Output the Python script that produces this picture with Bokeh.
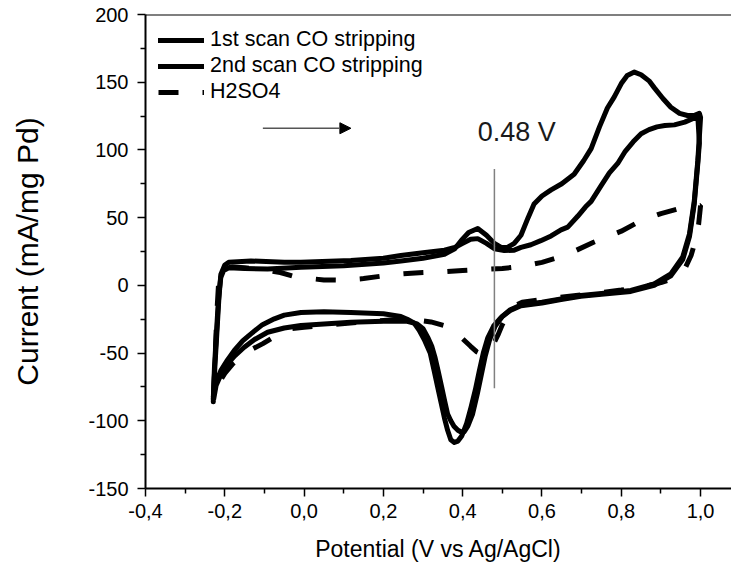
from bokeh.plotting import figure
from bokeh.models import (Range1d, FixedTicker, CustomJSTickFormatter, Span, Arrow,
                          NormalHead, Label, Legend, LegendItem)
from bokeh.embed import file_html
from bokeh.resources import INLINE

# ---- cyclic voltammograms: potential (V vs Ag/AgCl) and current (mA/mg Pd) ----
# 1st scan CO stripping, anodic sweep
scan1_fwd_v = [-0.229, -0.226, -0.222, -0.218, -0.214, -0.21, -0.203, -0.19, -0.15, -0.092,
               -0.008, 0.1, 0.2, 0.244, 0.3, 0.354, 0.38, 0.396, 0.415, 0.438, 0.46, 0.48,
               0.497, 0.513, 0.53, 0.547, 0.565, 0.58, 0.6, 0.623, 0.65, 0.681, 0.705, 0.724,
               0.745, 0.765, 0.782, 0.8, 0.815, 0.833, 0.85, 0.87, 0.883, 0.905, 0.925, 0.947,
               0.967, 0.985, 0.997]
scan1_fwd_i = [-84, -60, -40, -20, -4, 6, 11, 13, 12.5, 12,
               13.3, 14.5, 16.5, 18, 20, 23, 27, 33, 39, 42, 37, 31,
               28, 28, 31, 37, 50, 60, 66, 70.5, 75, 82, 92, 101,
               117, 131, 139, 149, 155, 157.5, 155.5, 151, 146, 138, 131.5, 127,
               125.4, 125.5, 127]
# 1st scan CO stripping, cathodic sweep
scan1_rev_v = [1.0, 0.997, 0.993, 0.984, 0.972, 0.955, 0.925, 0.883, 0.824, 0.75, 0.698, 0.648,
               0.6, 0.547, 0.52, 0.497, 0.478, 0.463, 0.452, 0.442, 0.432, 0.421, 0.41, 0.398,
               0.388, 0.379, 0.37, 0.362, 0.354, 0.345, 0.336, 0.328, 0.318, 0.303, 0.29, 0.278,
               0.26, 0.244, 0.2, 0.118, 0.05, -0.008, -0.05, -0.075, -0.105, -0.134, -0.155,
               -0.176, -0.193, -0.21, -0.22, -0.226, -0.229]
scan1_rev_i = [124, 110, 92, 62, 38, 21, 8.5, 1, -3.8, -6, -7.5, -10,
               -12.5, -14.5, -18, -23.6, -30, -39, -50, -63, -77, -90, -102, -111,
               -115, -116, -114, -107, -98, -86, -74, -63, -50, -40, -33, -28,
               -25, -23, -21, -20, -19.5, -20, -22, -24.7, -29, -35.8, -41,
               -48, -55, -63, -70, -76, -82]

# 2nd scan CO stripping, anodic sweep
scan2_fwd_v = [-0.229, -0.225, -0.22, -0.215, -0.21, -0.2, -0.19, -0.134, -0.05, -0.008, 0.118,
               0.2, 0.244, 0.3, 0.354, 0.38, 0.4, 0.42, 0.438, 0.46, 0.48, 0.505, 0.53, 0.547,
               0.572, 0.597, 0.623, 0.648, 0.665, 0.69, 0.71, 0.724, 0.75, 0.77, 0.791, 0.81,
               0.83, 0.85, 0.87, 0.89, 0.91, 0.934, 0.96, 0.98, 0.993]
scan2_fwd_i = [-86, -60, -35, -10, 8, 15, 17, 18, 17, 17, 18.3,
               20, 22, 24, 26, 28, 31, 34, 34.5, 31, 27, 25.7, 26, 28,
               30, 33, 36.5, 41, 43, 51, 58, 62, 74, 83, 90, 99,
               106, 112, 115, 117, 118, 118.5, 120.5, 123, 125]
# 2nd scan CO stripping, cathodic sweep
scan2_rev_v = [0.997, 0.993, 0.984, 0.972, 0.955, 0.925, 0.883, 0.824, 0.75, 0.698, 0.648, 0.6,
               0.547, 0.52, 0.5, 0.482, 0.468, 0.457, 0.447, 0.437, 0.425, 0.413, 0.404, 0.397,
               0.388, 0.378, 0.37, 0.362, 0.355, 0.347, 0.338, 0.33, 0.322, 0.313, 0.3, 0.285,
               0.26, 0.2, 0.118, -0.008, -0.05, -0.092, -0.125, -0.151, -0.175, -0.193, -0.21,
               -0.222, -0.228]
scan2_rev_i = [105, 90, 60, 36, 19, 7, 0, -4.5, -6.5, -8, -10.5, -13,
               -15, -18.5, -23, -30, -40, -52, -66, -80, -95, -104, -108, -108.5,
               -107, -104, -100, -95, -86, -75, -63, -53, -45, -39, -32, -28.5,
               -26.5, -26.5, -27.3, -29.7, -31.5, -34.6, -40, -45.7, -52, -58, -66,
               -74, -84]

# Blank electrolyte (H2SO4), anodic sweep
h2so4_fwd_v = [-0.228, -0.224, -0.22, -0.216, -0.21, -0.2, -0.18, -0.15, -0.12, -0.09, -0.06,
               -0.03, 0.0, 0.05, 0.1, 0.15, 0.2, 0.25, 0.3, 0.35, 0.4, 0.45, 0.5, 0.55, 0.6,
               0.64, 0.68, 0.73, 0.8, 0.85, 0.9, 0.95, 0.975, 1.0]
h2so4_fwd_i = [-80, -50, -20, 0, 10, 13, 13.5, 13, 12, 11, 9.5,
               7, 5.5, 4, 3.8, 5, 7, 8.5, 9.5, 10, 11, 11.8, 12.5, 14, 17,
               20.5, 25, 31.8, 40, 47.9, 53, 57, 58, 59]
# Blank electrolyte (H2SO4), cathodic sweep
h2so4_rev_v = [0.995, 0.988, 0.976, 0.96, 0.93, 0.9, 0.85, 0.8, 0.7, 0.6, 0.55, 0.535, 0.515,
               0.5, 0.49, 0.478, 0.465, 0.45, 0.435, 0.42, 0.4, 0.38, 0.354, 0.32, 0.28, 0.244,
               0.15, 0.05, 0.0, -0.033, -0.07, -0.104, -0.13, -0.155, -0.18, -0.2, -0.215, -0.228]
h2so4_rev_i = [45, 34, 22, 12, 5, 2, -1.5, -3.5, -7, -10.5, -12.5, -14.5, -20,
               -29, -36, -43, -49, -51, -49, -45, -39.5, -34, -29.7, -27, -25.5, -25,
               -27, -29.5, -31, -32, -37, -43, -47, -52, -58, -65, -72, -80]

series_labels = ["1st scan CO stripping", "2nd scan CO stripping", "H2SO4"]

x_ticks = [-0.4, -0.2, 0.0, 0.2, 0.4, 0.6, 0.8, 1.0]
x_minor = [-0.3, -0.1, 0.1, 0.3, 0.5, 0.7, 0.9]
y_ticks = [-150, -100, -50, 0, 50, 100, 150, 200]
y_minor = [-125, -75, -25, 25, 75, 125, 175]

x_title = "Potential (V vs Ag/AgCl)"
y_title = "Current (mA/mg Pd)"

# CO oxidation onset marker and sweep-direction arrow
onset_v = 0.48
onset_text = "0.48 V"
onset_i_top, onset_i_bottom = 86, -76
onset_label_v, onset_label_i = 0.438, 102
arrow_v_start, arrow_v_end, arrow_i = -0.104, 0.118, 116

FONT = "Liberation Sans"
CURVE_W = 5

p = figure(width=731, height=581, output_backend="svg", toolbar_location=None,
           x_range=Range1d(-0.4, 1.078), y_range=Range1d(-150, 200),
           min_border_left=145, min_border_right=0, min_border_top=14,
           min_border_bottom=93)
p.grid.visible = False
p.outline_line_color = None
p.background_fill_color = "white"
p.border_fill_color = "white"

# axes
p.xaxis.ticker = FixedTicker(ticks=x_ticks, minor_ticks=x_minor)
p.yaxis.ticker = FixedTicker(ticks=y_ticks, minor_ticks=y_minor)
p.xaxis.formatter = CustomJSTickFormatter(code="return tick.toFixed(1).replace('.', ',');")
p.yaxis.formatter = CustomJSTickFormatter(code="return tick.toFixed(0);")
p.xaxis.axis_label = x_title
p.yaxis.axis_label = y_title
for ax in (p.xaxis, p.yaxis):
    ax.axis_line_width = 2
    ax.axis_line_color = "black"
    ax.major_tick_line_width = 1.5
    ax.minor_tick_line_width = 1.5
    ax.major_tick_in = 0
    ax.major_tick_out = 8
    ax.minor_tick_in = 0
    ax.minor_tick_out = 5
    ax.major_label_text_font = FONT
    ax.major_label_text_font_size = "20px"
    ax.major_label_text_color = "black"
    ax.axis_label_text_font = FONT
    ax.axis_label_text_font_style = "normal"
    ax.axis_label_text_color = "black"
p.xaxis.axis_label_text_font_size = "23px"
p.yaxis.axis_label_text_font_size = "30px"
p.xaxis.major_label_standoff = 7
p.xaxis.axis_label_standoff = 15
p.yaxis.major_label_standoff = 9
p.yaxis.axis_label_standoff = 41

# top border of the frame
p.add_layout(Span(location=200, dimension="width", line_color="black", line_width=2))

# curves
r_h2so4 = p.line(h2so4_fwd_v + h2so4_rev_v, h2so4_fwd_i + h2so4_rev_i,
                 line_color="black", line_width=CURVE_W, line_dash="20 24")
r_scan2 = p.line(scan2_fwd_v + scan2_rev_v, scan2_fwd_i + scan2_rev_i,
                 line_color="black", line_width=CURVE_W, line_join="round", line_cap="round")
r_scan1 = p.line(scan1_fwd_v + scan1_rev_v, scan1_fwd_i + scan1_rev_i,
                 line_color="black", line_width=CURVE_W, line_join="round", line_cap="round")

# onset marker line and label
p.segment(x0=[onset_v], y0=[onset_i_top], x1=[onset_v], y1=[onset_i_bottom],
          line_color="#808080", line_width=1.5)
p.add_layout(Label(x=onset_label_v, y=onset_label_i, text=onset_text, text_font=FONT,
                   text_font_size="27px", text_color="#1a1a1a"))

# sweep direction arrow
p.add_layout(Arrow(end=NormalHead(size=11, fill_color="black", line_color="black"),
                   x_start=arrow_v_start, y_start=arrow_i, x_end=arrow_v_end, y_end=arrow_i,
                   line_color="#555555", line_width=1.5))

legend = Legend(items=[LegendItem(label=series_labels[0], renderers=[r_scan1]),
                       LegendItem(label=series_labels[1], renderers=[r_scan2]),
                       LegendItem(label=series_labels[2], renderers=[r_h2so4])],
                location="top_left", border_line_color=None, background_fill_alpha=0,
                margin=13, padding=0, spacing=1, glyph_width=46, glyph_height=22,
                label_height=22, label_standoff=6, label_text_font=FONT,
                label_text_font_size="21.5px", label_text_color="black")
p.add_layout(legend)

open("out.html", "w").write(file_html(p, INLINE))
